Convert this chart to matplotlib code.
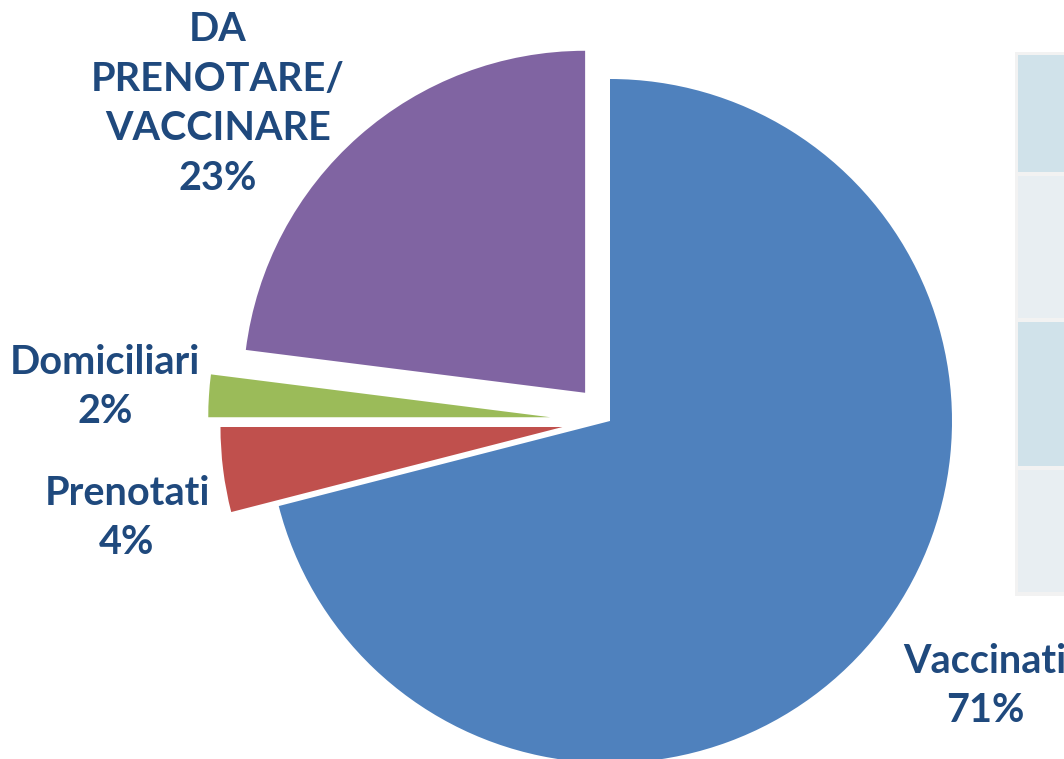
import matplotlib
matplotlib.use("Agg")
import matplotlib.pyplot as plt
from matplotlib.patches import Rectangle

# data
labels = ["Vaccinati", "Prenotati", "Domiciliari", "DA\nPRENOTARE/\nVACCINARE"]
values = [71, 4, 2, 23]
colors = ["#4F81BD", "#C0504D", "#9BBB59", "#8064A2"]
explode = [0.0, 0.14, 0.175, 0.11]

TXT = "#1F497D"
W, H = 1064, 759
CX, CY, R = 610, 421, 342   # pie centre / radius in pixels

fig = plt.figure(figsize=(W / 100, H / 100), dpi=100)
ax = fig.add_axes([0, 0, 1, 1])
ax.pie(values, colors=colors, explode=explode, startangle=90, counterclock=False,
       radius=1, center=(0, 0), wedgeprops=dict(linewidth=0))
ax.set_xlim(-CX / R, (W - CX) / R)
ax.set_ylim(-(H - CY) / R, CY / R)
ax.set_aspect("auto")
ax.axis("off")

# label placement (pixel centres)
label_pos = [(985, 686), (127, 518), (105, 387), (218, 104)]
for lab, v, (px, py) in zip(labels, values, label_pos):
    ax.text((px - CX) / R, (CY - py) / R, f"{lab}\n{v}%", ha="center", va="center",
            fontsize=28.5, fontweight="bold", color=TXT, family="Lato", linespacing=1.42)

# cut-off table on the right
fig.patches.append(Rectangle((1015 / W, 1 - 596 / H), 60 / W, 544 / H, transform=fig.transFigure,
                             facecolor="#F2F2F2", edgecolor="none", zorder=0))
rows = [(55, 172, "#D0E2EA"), (176, 318, "#E8EEF2"), (322, 466, "#D0E2EA"), (470, 592, "#E8EEF2")]
for y0, y1, c in rows:
    fig.patches.append(Rectangle((1018 / W, 1 - y1 / H), 50 / W, (y1 - y0) / H,
                                 transform=fig.transFigure, facecolor=c, edgecolor="none", zorder=1))

fig.savefig("out.png", dpi=100)
